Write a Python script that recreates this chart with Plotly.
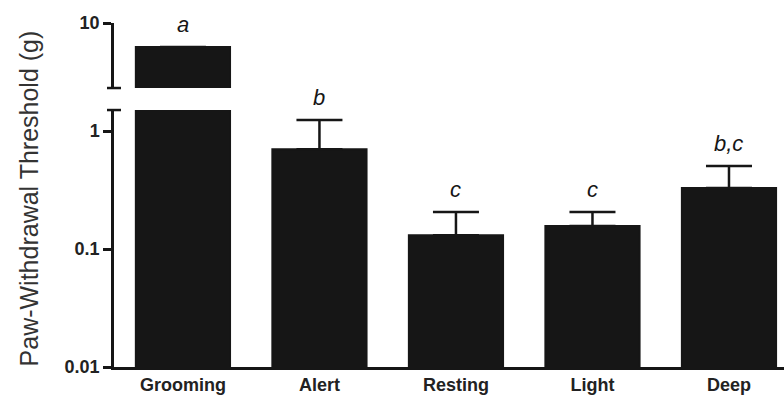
import math
import plotly.graph_objects as go

categories = ["Grooming", "Alert", "Resting", "Light", "Deep"]
means = [6.26, 0.70, 0.131, 0.157, 0.329]
err_upper = [None, 0.54, 0.075, 0.049, 0.176]
letters = ["a", "b", "c", "c", "b,c"]
lower_ticks = [0.01, 0.1, 1]
lower_ticktext = ["0.01", "0.1", "1"]
upper_ticks = [10]
upper_ticktext = ["10"]

INK = "#161616"
tops = [m + (e if e is not None else 0) for m, e in zip(means, err_upper)]

fig = go.Figure()
for yax in ["y", "y2"]:
    fig.add_trace(go.Bar(
        x=categories, y=means, yaxis=yax,
        marker=dict(color=INK, line=dict(width=2, color=INK)),
        width=0.69,
        error_y=dict(type="data", symmetric=False, array=err_upper,
                     arrayminus=[0] * len(means), color=INK,
                     thickness=2.5, width=23),
        showlegend=False,
    ))

annotations = []
for c, t, l in zip(categories, tops, letters):
    annotations.append(dict(
        x=c, y=math.log10(t), xref="x", yref="y2" if t > 2 else "y", text=l,
        showarrow=False, yanchor="bottom", yshift=8,
        font=dict(family="Liberation Sans", size=22, color=INK, style="italic"),
    ))
annotations.append(dict(
    x=0, y=0.49, xref="paper", yref="paper", xshift=-85, xanchor="center", yanchor="middle",
    text="Paw-Withdrawal Threshold (g)", textangle=-90, showarrow=False,
    font=dict(family="Liberation Sans", size=25, color="#333333"),
))

shapes = []
for yref, yv in [("y domain", 1), ("y2 domain", 0)]:
    shapes.append(dict(type="line", xref="paper", xsizemode="pixel", xanchor=0,
                       x0=-7, x1=7, yref=yref, y0=yv, y1=yv,
                       line=dict(color=INK, width=2.5)))

axis_common = dict(type="log", showgrid=False, zeroline=False, showline=True,
                   linecolor=INK, linewidth=2.5, ticks="outside", ticklen=8,
                   tickwidth=2.5, tickcolor=INK, automargin=False,
                   tickfont=dict(family="Liberation Sans", size=18, color="#222222", weight="bold"))

fig.update_layout(
    width=784, height=398,
    margin=dict(l=114, r=0, t=23, b=31),
    paper_bgcolor="white", plot_bgcolor="white",
    xaxis=dict(type="category", range=[-0.505, 4.403], showline=True, linecolor=INK,
               linewidth=2.5, ticks="", showgrid=False, zeroline=False, anchor="y",
               automargin=False,
               tickfont=dict(family="Liberation Sans", size=18, color="#222222", weight="bold")),
    yaxis=dict(domain=[0, 0.747], range=[-2, 0.178], tickvals=lower_ticks,
               ticktext=lower_ticktext, anchor="x", **axis_common),
    yaxis2=dict(domain=[0.811, 1], range=[0.449, 1], tickvals=upper_ticks,
                ticktext=upper_ticktext, anchor="x", **axis_common),
    annotations=annotations,
    shapes=shapes,
)

fig.write_html("out.html")
